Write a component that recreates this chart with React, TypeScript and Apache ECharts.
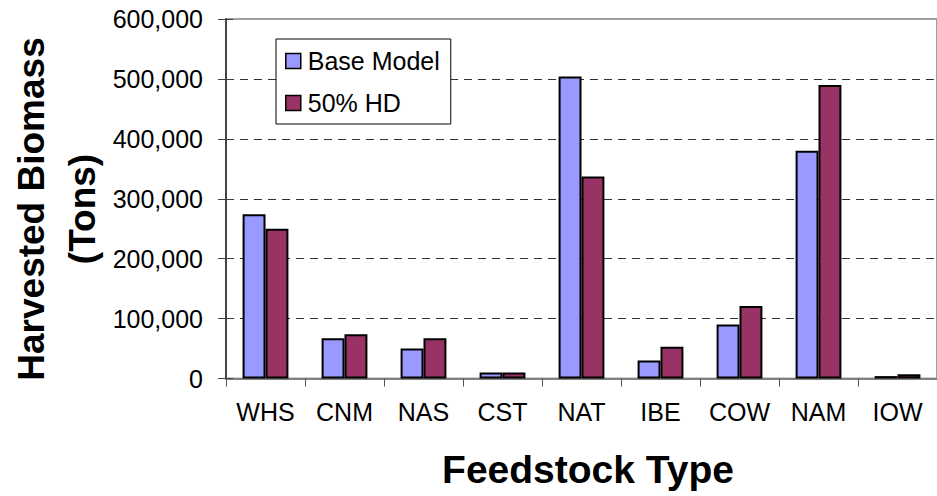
import React, { useEffect, useRef } from "react";
import * as echarts from "echarts";

const categories = ["WHS", "CNM", "NAS", "CST", "NAT", "IBE", "COW", "NAM", "IOW"];
const baseModel = [274000, 67000, 50000, 10000, 504000, 30000, 90000, 380000, 4000];
const hd50 = [250000, 74000, 67000, 10000, 337000, 53000, 121000, 490000, 7000];
const seriesNames = ["Base Model", "50% HD"];
const yTicks = { min: 0, max: 600000, interval: 100000 };
const xTitle = "Feedstock Type";
const yTitle = "Harvested Biomass\n(Tons)";

const FONT = 'Arial, "Liberation Sans", sans-serif';

export default function App() {
  const ref = useRef<HTMLDivElement>(null);
  useEffect(() => {
    if (!ref.current) return;
    const chart = echarts.init(ref.current, null, { renderer: "svg" });
    chart.setOption({
      animation: false,
      backgroundColor: "#ffffff",
      textStyle: { fontFamily: FONT },
      grid: {
        left: 226,
        top: 19,
        width: 719,
        height: 359.5,
        show: true,
        borderColor: "#a0a0a0",
        borderWidth: 2,
        backgroundColor: "transparent",
      },
      legend: {
        data: seriesNames,
        orient: "vertical",
        left: 276,
        top: 39,
        backgroundColor: "#ffffff",
        borderColor: "#000000",
        borderWidth: 1,
        borderRadius: 0,
        padding: [9, 11, 8, 9],
        itemWidth: 15,
        itemHeight: 15,
        itemGap: 16,
        icon: "rect",
        itemStyle: { borderColor: "#000", borderWidth: 1.5 },
        textStyle: { fontSize: 25, color: "#000", fontFamily: FONT, lineHeight: 26, padding: [0, 0, 0, 2] },
      },
      xAxis: {
        type: "category",
        data: categories,
        boundaryGap: true,
        axisLine: { show: true, lineStyle: { color: "#808080", width: 2 } },
        axisTick: { show: true, inside: false, length: 8, interval: 0, lineStyle: { color: "#555", width: 1 } },
        axisLabel: { fontSize: 25, color: "#000", margin: 21, fontFamily: FONT, interval: 0, hideOverlap: false },
        splitLine: { show: false },
      },
      yAxis: [
        {
          type: "value",
          min: yTicks.min,
          max: yTicks.max,
          interval: yTicks.interval,
          position: "left",
          axisLine: { show: true, lineStyle: { color: "#404040", width: 1.5 } },
          axisTick: { show: true, inside: false, length: 8, lineStyle: { color: "#404040", width: 1 } },
          axisLabel: {
            fontSize: 25,
            color: "#000",
            margin: 23,
            fontFamily: FONT,
            formatter: (v: number) => v.toLocaleString("en-US"),
          },
          splitLine: {
            show: true,
            lineStyle: {
              color: ["rgba(0,0,0,0)", "#333", "#333", "#333", "#333", "#333", "rgba(0,0,0,0)"],
              type: [8, 6],
              width: 1,
            },
          },
        },
        {
          type: "value",
          min: yTicks.min,
          max: yTicks.max,
          interval: yTicks.interval,
          position: "left",
          axisLine: { show: true, lineStyle: { color: "#404040", width: 1.5 } },
          axisTick: { show: true, inside: true, length: 7, lineStyle: { color: "#404040", width: 1 } },
          axisLabel: { show: false },
          splitLine: { show: false },
        },
      ],
      graphic: [
        {
          type: "text",
          x: 57,
          y: 209,
          rotation: Math.PI / 2,
          style: {
            text: yTitle,
            font: `bold 37px ${FONT}`,
            fill: "#000",
            align: "center",
            verticalAlign: "middle",
            lineHeight: 51,
          },
        },
        {
          type: "text",
          x: 588,
          y: 469,
          style: {
            text: xTitle,
            font: `bold 39px ${FONT}`,
            fill: "#000",
            align: "center",
            verticalAlign: "middle",
          },
        },
      ],
      series: [
        {
          name: seriesNames[0],
          type: "bar",
          data: baseModel,
          barGap: "0%",
          barCategoryGap: "42%",
          itemStyle: { color: "#9999FF", borderColor: "#000", borderWidth: 2 },
        },
        {
          name: seriesNames[1],
          type: "bar",
          data: hd50,
          barGap: "0%",
          barCategoryGap: "42%",
          itemStyle: { color: "#993366", borderColor: "#000", borderWidth: 2 },
        },
      ],
    });
    return () => chart.dispose();
  }, []);
  return <div ref={ref} style={{ width: 937, height: 496, position: "absolute", left: 0, top: 0 }} />;
}
